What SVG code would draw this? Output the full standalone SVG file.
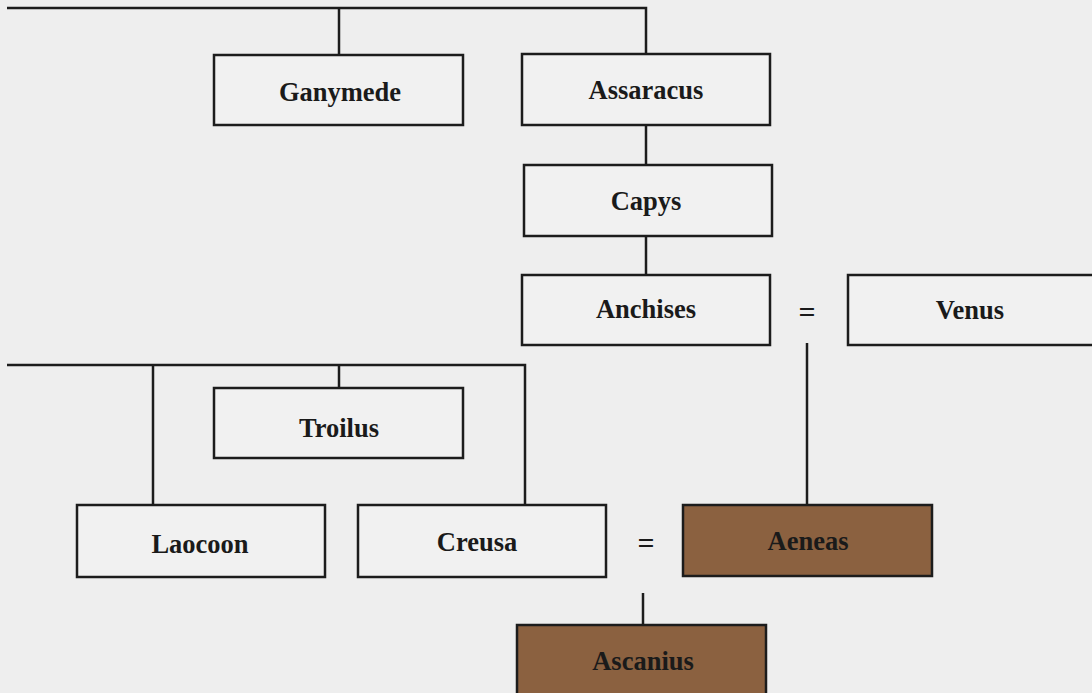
<svg xmlns="http://www.w3.org/2000/svg" width="1092" height="693" viewBox="0 0 1092 693">
<style>
.box{fill:#f1f1f1;stroke:#1c1c1c;stroke-width:2.5}
.hl{fill:#8b6140;stroke:#1c1c1c;stroke-width:2.5}
.lbl{font-family:"Liberation Serif","Times New Roman",serif;font-weight:bold;font-size:26.5px;fill:#1a1a1a;text-anchor:middle}
.eq{font-family:"Liberation Serif","Times New Roman",serif;font-weight:bold;font-size:30px;fill:#1a1a1a;text-anchor:middle}
.ln{stroke:#1c1c1c;stroke-width:2.5;fill:none}
</style>
<rect width="1092" height="693" fill="#eeeeee"/>
<g id="connectors">
<polyline class="ln" points="7,8 646,8 646,54"/>
<line class="ln" x1="339" y1="8" x2="339" y2="55"/>
<line class="ln" x1="646" y1="125" x2="646" y2="165"/>
<line class="ln" x1="646" y1="236" x2="646" y2="275"/>
<line class="ln" x1="807" y1="343" x2="807" y2="505"/>
<polyline class="ln" points="7,365 525,365 525,505"/>
<line class="ln" x1="153" y1="365" x2="153" y2="505"/>
<line class="ln" x1="339" y1="365" x2="339" y2="388"/>
<line class="ln" x1="643" y1="593" x2="643" y2="625"/>
<text class="eq" x="807" y="322">=</text>
<text class="eq" x="646" y="553">=</text>
</g>
<g id="ganymede"><rect class="box" x="214" y="55" width="249" height="70"/><text class="lbl" x="340" y="101">Ganymede</text></g>
<g id="assaracus"><rect class="box" x="522" y="54" width="248" height="71"/><text class="lbl" x="646" y="99">Assaracus</text></g>
<g id="capys"><rect class="box" x="524" y="165" width="248" height="71"/><text class="lbl" x="646" y="210">Capys</text></g>
<g id="anchises"><rect class="box" x="522" y="275" width="248" height="70"/><text class="lbl" x="646" y="318">Anchises</text></g>
<g id="venus"><rect class="box" x="848" y="275" width="260" height="70"/><text class="lbl" x="970" y="319">Venus</text></g>
<g id="troilus"><rect class="box" x="214" y="388" width="249" height="70"/><text class="lbl" x="339" y="437">Troilus</text></g>
<g id="laocoon"><rect class="box" x="77" y="505" width="248" height="72"/><text class="lbl" x="200" y="553">Laocoon</text></g>
<g id="creusa"><rect class="box" x="358" y="505" width="248" height="72"/><text class="lbl" x="477" y="551">Creusa</text></g>
<g id="aeneas"><rect class="hl" x="683" y="505" width="249" height="71"/><text class="lbl" x="808" y="550">Aeneas</text></g>
<g id="ascanius"><rect class="hl" x="517" y="625" width="249" height="80"/><text class="lbl" x="643" y="670">Ascanius</text></g>
</svg>
